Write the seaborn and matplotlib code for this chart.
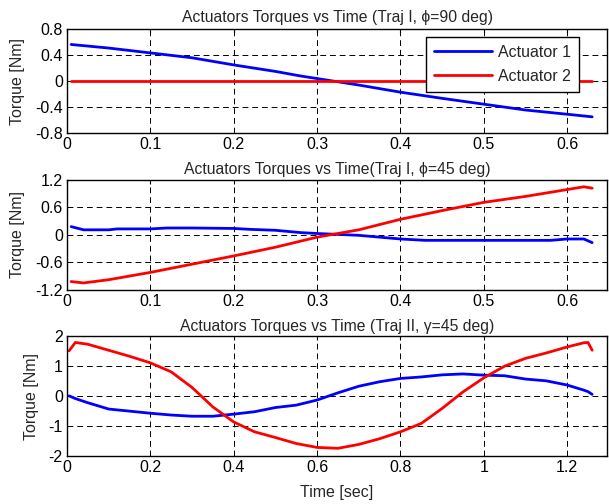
import matplotlib.pyplot as plt
import seaborn as sns

# panel 1 (Traj I, phi=90 deg)
t1_act1 = [0.005, 0.05, 0.1, 0.15, 0.2, 0.25, 0.28, 0.3, 0.35, 0.4, 0.45, 0.5, 0.55, 0.6, 0.63]
p1_act1 = [0.565, 0.51, 0.435, 0.36, 0.25, 0.15, 0.08, 0.04, -0.06, -0.17, -0.265, -0.355, -0.445, -0.51, -0.55]
t1_act2 = [0.005, 0.63]
p1_act2 = [0.0, 0.0]

# panel 2 (Traj I, phi=45 deg)
t2_act1 = [0.005, 0.02, 0.05, 0.06, 0.1, 0.12, 0.15, 0.2, 0.22, 0.25, 0.28, 0.3,
           0.35, 0.4, 0.43, 0.5, 0.58, 0.6, 0.62, 0.63]
p2_act1 = [0.18, 0.11, 0.11, 0.13, 0.13, 0.15, 0.15, 0.14, 0.12, 0.10, 0.05, 0.03,
           -0.01, -0.09, -0.12, -0.12, -0.12, -0.09, -0.09, -0.17]
t2_act2 = [0.005, 0.02, 0.05, 0.1, 0.15, 0.2, 0.25, 0.3, 0.35, 0.4, 0.45, 0.5,
           0.55, 0.6, 0.62, 0.63]
p2_act2 = [-1.02, -1.05, -0.98, -0.82, -0.64, -0.46, -0.27, -0.05, 0.11, 0.34, 0.53, 0.71,
           0.84, 0.99, 1.05, 1.02]

# panel 3 (Traj II, gamma=45 deg)
t3 = [0.005, 0.02, 0.05, 0.1, 0.15, 0.2, 0.25, 0.3, 0.35, 0.4, 0.45, 0.5, 0.55, 0.6,
      0.65, 0.7, 0.75, 0.8, 0.85, 0.9, 0.95, 1.0, 1.05, 1.1, 1.15, 1.2, 1.24, 1.25, 1.26]
p3_act1 = [0.01, -0.08, -0.22, -0.43, -0.5, -0.57, -0.63, -0.67, -0.67, -0.6, -0.52, -0.38,
           -0.3, -0.13, 0.11, 0.33, 0.48, 0.59, 0.64, 0.71, 0.74, 0.7, 0.68, 0.57, 0.51,
           0.37, 0.2, 0.15, 0.06]
p3_act2 = [1.51, 1.79, 1.73, 1.53, 1.33, 1.11, 0.81, 0.29, -0.36, -0.86, -1.19, -1.38,
           -1.58, -1.71, -1.74, -1.61, -1.42, -1.19, -0.91, -0.41, 0.14, 0.61, 1.0,
           1.26, 1.44, 1.64, 1.78, 1.79, 1.53]

sns.set_style("white")
plt.rcParams["font.family"] = ["Liberation Sans", "DejaVu Sans"]
plt.rcParams["font.size"] = 11.5

fig = plt.figure(figsize=(6.09, 5.04), dpi=100)
ax1 = fig.add_axes([0.110, 0.736, 0.887, 0.206])
ax2 = fig.add_axes([0.110, 0.425, 0.887, 0.218])
ax3 = fig.add_axes([0.110, 0.095, 0.887, 0.238])

BLUE = "#0000ff"
RED = "#ff0000"
LW = 2.0

sns.lineplot(x=t1_act1, y=p1_act1, ax=ax1, color=BLUE, lw=LW, label="Actuator 1")
sns.lineplot(x=t1_act2, y=p1_act2, ax=ax1, color=RED, lw=LW, label="Actuator 2")
sns.lineplot(x=t2_act1, y=p2_act1, ax=ax2, color=BLUE, lw=LW, legend=False)
sns.lineplot(x=t2_act2, y=p2_act2, ax=ax2, color=RED, lw=LW, legend=False)
sns.lineplot(x=t3, y=p3_act1, ax=ax3, color=BLUE, lw=LW, legend=False)
sns.lineplot(x=t3, y=p3_act2, ax=ax3, color=RED, lw=LW, legend=False)

TITLE_FS = 11.3

ax1.set_xlim(0, 0.648)
ax1.set_ylim(-0.8, 0.8)
ax1.set_xticks([0, 0.1, 0.2, 0.3, 0.4, 0.5, 0.6])
ax1.set_xticklabels(["0", "0.1", "0.2", "0.3", "0.4", "0.5", "0.6"])
ax1.set_yticks([-0.8, -0.4, 0, 0.4, 0.8])
ax1.set_yticklabels(["-0.8", "-0.4", "0", "0.4", "0.8"])
ax1.set_title("Actuators Torques vs Time (Traj I, \u03d5=90 deg)", fontsize=TITLE_FS, pad=5)

ax2.set_xlim(0, 0.648)
ax2.set_ylim(-1.2, 1.2)
ax2.set_xticks([0, 0.1, 0.2, 0.3, 0.4, 0.5, 0.6])
ax2.set_xticklabels(["0", "0.1", "0.2", "0.3", "0.4", "0.5", "0.6"])
ax2.set_yticks([-1.2, -0.6, 0, 0.6, 1.2])
ax2.set_yticklabels(["-1.2", "-0.6", "0", "0.6", "1.2"])
ax2.set_title("Actuators Torques vs Time(Traj I, \u03d5=45 deg)", fontsize=TITLE_FS, pad=4)

ax3.set_xlim(0, 1.296)
ax3.set_ylim(-2, 2)
ax3.set_xticks([0, 0.2, 0.4, 0.6, 0.8, 1.0, 1.2])
ax3.set_xticklabels(["0", "0.2", "0.4", "0.6", "0.8", "1", "1.2"])
ax3.set_yticks([-2, -1, 0, 1, 2])
ax3.set_yticklabels(["-2", "-1", "0", "1", "2"])
ax3.set_title("Actuators Torques vs Time (Traj II, \u03b3=45 deg)", fontsize=TITLE_FS, pad=4)
ax3.set_xlabel("Time [sec]", labelpad=7)

for ax in (ax1, ax2, ax3):
    ax.set_ylabel("Torque [Nm]", labelpad=7)
    if ax is not ax3:
        ax.set_xlabel("")
    ax.grid(True, color="black", linestyle=(0, (6, 4)), linewidth=0.7)
    for sp in ax.spines.values():
        sp.set_color("black")
        sp.set_linewidth(1.0)
    ax.tick_params(direction="in", length=3, width=0.8, colors="black",
                   top=True, right=True, pad=3)

leg = ax1.legend(loc="upper right", bbox_to_anchor=(0.948, 0.925), fontsize=11.5,
                 handlelength=3.6, frameon=True, fancybox=False, borderpad=0.5,
                 labelspacing=0.55, handletextpad=0.4, borderaxespad=0)
leg.get_frame().set_edgecolor("black")
leg.get_frame().set_linewidth(1.0)
leg.get_frame().set_alpha(1)

fig.savefig("out.png", dpi=100)
